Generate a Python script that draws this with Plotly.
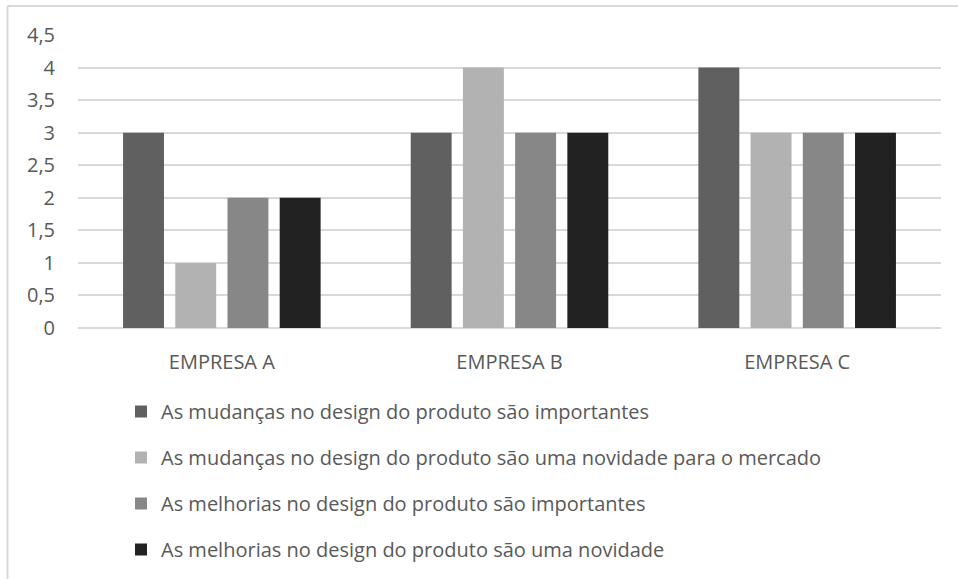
import plotly.graph_objects as go

# Categories and series values
empresas = ["EMPRESA A", "EMPRESA B", "EMPRESA C"]
series_names = [
    "As mudanças no design do produto são importantes",
    "As mudanças no design do produto são uma novidade para o mercado",
    "As melhorias no design do produto são importantes",
    "As melhorias no design do produto são uma novidade",
]
mudancas_importantes = [3, 3, 4]
mudancas_novidade = [1, 4, 3]
melhorias_importantes = [2, 3, 3]
melhorias_novidade = [2, 3, 3]

series_values = [mudancas_importantes, mudancas_novidade, melhorias_importantes, melhorias_novidade]
colors = ["#606060", "#b2b2b2", "#878787", "#222222"]

W, H = 958, 579
ML, MR, MT, MB = 78, 17, 35, 251
FONT = "Open Sans"
TXT = "#595959"
FS = 20

fig = go.Figure()
for i, (name, vals) in enumerate(zip(series_names, series_values)):
    fig.add_trace(go.Bar(
        x=empresas, y=vals, name=name,
        marker=dict(color=colors[i], line=dict(width=0)),
        legendgroup=f"g{i}",
    ))

# chart frame: left and top edges
def px_x(p):
    return (p - ML) / (W - ML - MR)

def px_y(p):
    return (H - MB - p) / (H - MT - MB)

frame = dict(color="#d9d9d9", width=2)
fig.add_shape(type="line", xref="paper", yref="paper",
              x0=px_x(7.5), x1=px_x(960), y0=px_y(6), y1=px_y(6), line=frame)
fig.add_shape(type="line", xref="paper", yref="paper",
              x0=px_x(7.5), x1=px_x(7.5), y0=px_y(6), y1=px_y(585), line=frame)

fig.update_layout(
    width=W, height=H,
    margin=dict(l=ML, r=MR, t=MT, b=MB, autoexpand=False),
    paper_bgcolor="white", plot_bgcolor="white",
    separators=",.",
    barmode="group", bargap=0.274, bargroupgap=0.216,
    font=dict(family=FONT, size=FS, color=TXT),
    showlegend=True,
    legend=dict(
        orientation="v", x=px_x(121), xanchor="left", y=px_y(392), yanchor="top",
        font=dict(family=FONT, size=FS, color=TXT),
        tracegroupgap=17, itemwidth=30, bgcolor="rgba(0,0,0,0)",
    ),
    xaxis=dict(showgrid=False, showline=False, ticks="", ticklabelstandoff=20,
               tickfont=dict(family=FONT, size=FS, color=TXT)),
    yaxis=dict(range=[0, 4.5], dtick=0.5, tick0=0, showgrid=True, gridcolor="#d9d9d9",
               gridwidth=1.5, zeroline=True, zerolinecolor="#d9d9d9", zerolinewidth=1.5,
               showline=False, ticks="", ticklabelstandoff=22,
               tickfont=dict(family=FONT, size=FS, color=TXT)),
)

fig.write_html("out.html")
